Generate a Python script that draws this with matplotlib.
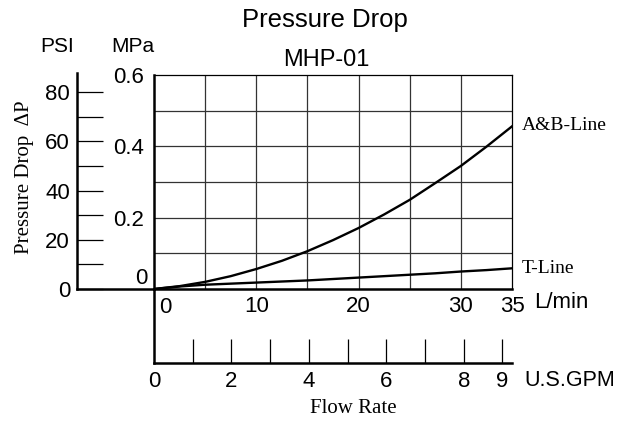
import matplotlib.pyplot as plt
from matplotlib.ticker import FixedLocator, NullFormatter

# values
flow_lpm = [0, 2.5, 5, 7.5, 10, 12.5, 15, 17.5, 20, 22.5, 25, 27.5, 30, 32.5, 35]
ab_line = [0, 0.008, 0.020, 0.036, 0.056, 0.079, 0.106, 0.137, 0.171, 0.209, 0.250, 0.297, 0.345, 0.399, 0.456]
t_line = [0, 0.007, 0.012, 0.015, 0.018, 0.021, 0.024, 0.028, 0.032, 0.036, 0.040, 0.044, 0.049, 0.053, 0.058]

lpm_ticks = [0, 10, 20, 30, 35]
lpm_labels = ['', '10', '20', '30', '35']
mpa_ticks = [0.2, 0.4, 0.6]
mpa_labels = ['0.2', '0.4', '0.6']
psi_major = [0, 20, 40, 60, 80]
psi_minor = [10, 30, 50, 70]
gpm_major = [0, 2, 4, 6, 8, 9]
gpm_minor = [1, 3, 5, 7]

W, H = 627, 423
sans = ['Liberation Sans', 'DejaVu Sans']
serif = ['Liberation Serif', 'DejaVu Serif']
plt.rcParams['font.family'] = sans
FS = 16


def box(x0, y0, x1, y1):
    # pixel box (top-left origin) -> figure fraction rect
    return [x0 / W, 1 - y1 / H, (x1 - x0) / W, (y1 - y0) / H]


fig = plt.figure(figsize=(W / 100, H / 100), dpi=100)

# main chart
ax = fig.add_axes(box(154, 75, 512, 289))
ax.set_xlim(0, 35)
ax.set_ylim(0, 0.6)
for v in range(5, 35, 5):
    ax.axvline(v, color='#333333', lw=0.9, zorder=1)
for v in [0.1, 0.2, 0.3, 0.4, 0.5]:
    ax.axhline(v, color='#333333', lw=0.9, zorder=1)
ax.plot(flow_lpm, ab_line, color='black', lw=1.7, zorder=3)
ax.plot(flow_lpm, t_line, color='black', lw=1.7, zorder=3)
ax.spines['left'].set_linewidth(1.8)
ax.spines['bottom'].set_linewidth(1.8)
ax.spines['top'].set_linewidth(0.9)
ax.spines['right'].set_linewidth(0.9)
ax.set_xticks(lpm_ticks)
ax.set_xticklabels(lpm_labels)
ax.tick_params(axis='x', length=0, pad=5, labelsize=FS)
ax.annotate('0', xy=(0, 0), xytext=(11, -8), textcoords='offset pixels',
            ha='center', va='top', fontsize=FS)
ax.set_yticks(mpa_ticks)
ax.set_yticklabels(mpa_labels)
ax.tick_params(axis='y', length=0, pad=7, labelsize=FS)
ax.annotate('0', xy=(0, 0), xytext=(-13, 11), textcoords='offset pixels',
            ha='center', va='center', fontsize=FS)
ax.text(1.061, -0.062, 'L/min', transform=ax.transAxes, ha='left', va='center', fontsize=FS)
ax.text(1.028, 0.763, 'A&B-Line', transform=ax.transAxes, ha='left', va='center',
        fontsize=14, family=serif)
ax.text(1.028, 0.095, 'T-Line', transform=ax.transAxes, ha='left', va='center',
        fontsize=14, family=serif)

# PSI scale
ax_psi = fig.add_axes(box(77, 75, 154, 289))
ax_psi.set_xlim(0, 1)
ax_psi.set_ylim(0, 0.6 * 145.04)
ax_psi.patch.set_visible(False)
for s in ['top', 'right']:
    ax_psi.spines[s].set_visible(False)
ax_psi.spines['left'].set_linewidth(1.8)
ax_psi.spines['bottom'].set_linewidth(1.8)
ax_psi.spines['left'].set_bounds(0, 88)
ax_psi.set_xticks([])
ax_psi.yaxis.set_major_locator(FixedLocator(psi_major))
ax_psi.yaxis.set_minor_locator(FixedLocator(psi_minor))
ax_psi.yaxis.set_minor_formatter(NullFormatter())
ax_psi.tick_params(axis='y', which='both', direction='in', length=19, width=0.9,
                   pad=5, labelsize=FS)

# GPM scale
ax_gpm = fig.add_axes(box(154, 289, 512, 363))
ax_gpm.set_xlim(0, 35 / 3.785)
ax_gpm.set_ylim(0, 1)
ax_gpm.patch.set_visible(False)
for s in ['top', 'right']:
    ax_gpm.spines[s].set_visible(False)
ax_gpm.spines['left'].set_linewidth(1.8)
ax_gpm.spines['bottom'].set_linewidth(1.8)
ax_gpm.set_yticks([])
ax_gpm.xaxis.set_major_locator(FixedLocator(gpm_major))
ax_gpm.xaxis.set_minor_locator(FixedLocator(gpm_minor))
ax_gpm.xaxis.set_minor_formatter(NullFormatter())
ax_gpm.tick_params(axis='x', which='both', direction='in', length=17, width=0.9,
                   pad=6, labelsize=FS)
ax_gpm.get_xticklines()[0].set_visible(False)
ax_gpm.text(1.034, -0.23, 'U.S.GPM', transform=ax_gpm.transAxes, ha='left', va='center',
            fontsize=15.5)

# titles and axis names
fig.text(325 / W, 1 - 20 / H, 'Pressure Drop', ha='center', va='center', fontsize=18.5)
fig.text(326 / W, 1 - 60 / H, 'MHP-01', ha='center', va='center', fontsize=17)
fig.text(57 / W, 1 - 47 / H, 'PSI', ha='center', va='center', fontsize=15)
fig.text(133 / W, 1 - 47 / H, 'MPa', ha='center', va='center', fontsize=15)
fig.text(25 / W, 1 - 177 / H, 'Pressure Drop  ΔP', ha='center', va='center', rotation=90,
         fontsize=15, family=serif)
fig.text(353 / W, 1 - 408 / H, 'Flow Rate', ha='center', va='center', fontsize=15, family=serif)

fig.savefig('out.png', dpi=100)
